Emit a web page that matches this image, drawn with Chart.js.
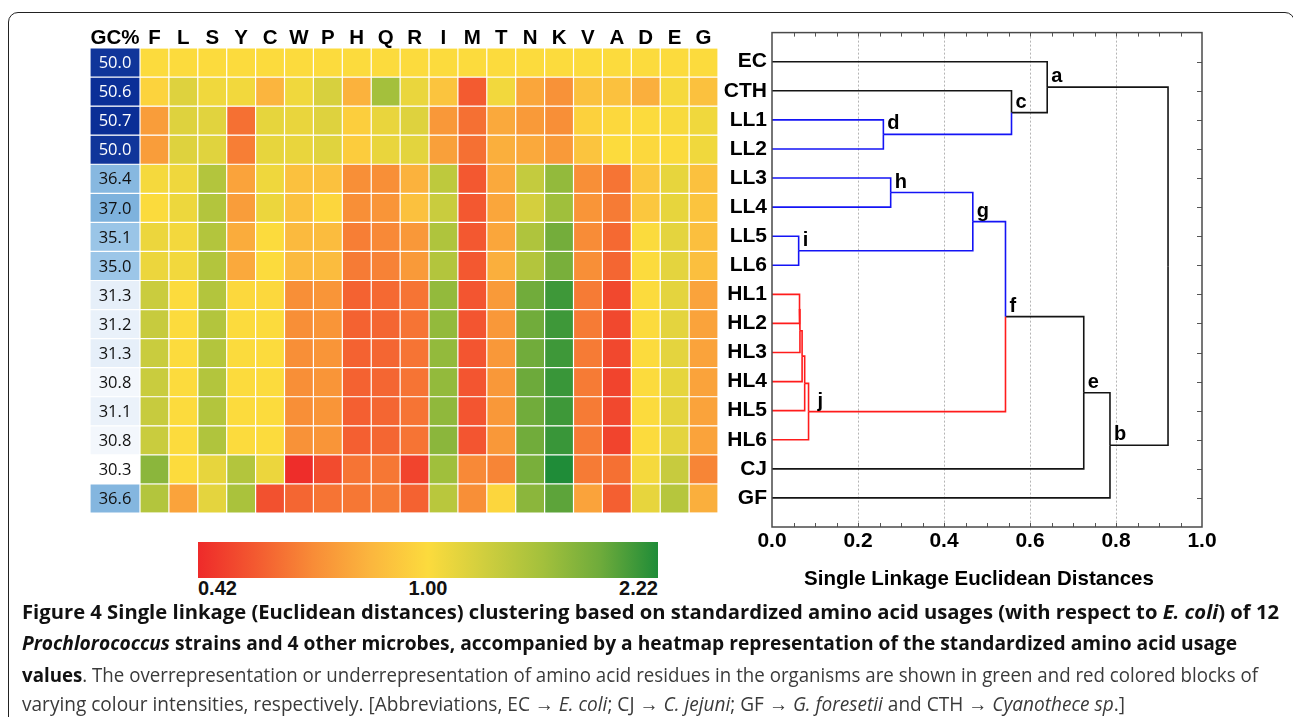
<!DOCTYPE html>
<html><head><meta charset="utf-8">
<script src="https://cdn.jsdelivr.net/npm/chart.js@4.4.1/dist/chart.umd.min.js"></script>
<style>
html,body{margin:0;padding:0;background:#fff;width:1293px;height:717px;overflow:hidden;position:relative;font-family:"Liberation Sans",Arial,sans-serif;}
#frame{position:absolute;left:8px;top:12px;width:1287px;height:780px;border:1.5px solid #222;border-radius:10px;box-sizing:border-box;}
canvas{position:absolute;}
#heat{left:80px;top:18px;}
#dendro{left:700px;top:15px;}
#cbar{position:absolute;left:198px;top:542px;width:460px;height:36px;}
.cbl{position:absolute;top:577px;font:bold 20px "Liberation Sans",Arial,sans-serif;line-height:22px;color:#111;white-space:nowrap;}
.cap{position:absolute;left:22px;white-space:nowrap;font-family:"Open Sans",sans-serif;font-size:20px;line-height:26px;transform-origin:0 50%;color:#3a3a3a;}
.cap b{color:#111;}
</style></head><body>
<div id="frame"></div>
<canvas id="heat" width="650" height="500"></canvas>
<canvas id="dendro" width="530" height="585"></canvas>
<div id="cbar"></div>
<div class="cbl" id="cbMin" style="left:198px;">0.42</div>
<div class="cbl" id="cbMid" style="left:428px;transform:translateX(-50%);">1.00</div>
<div class="cbl" id="cbMax" style="left:658px;transform:translateX(-100%);">2.22</div>
<div class="cap" id="cap1" data-w="1257" style="top:599px;"><b>Figure 4 Single linkage (Euclidean distances) clustering based on standardized amino acid usages (with respect to <i>E. coli</i>) of 12</b></div>
<div class="cap" id="cap2" data-w="1215" style="top:630px;"><b><i>Prochlorococcus</i> strains and 4 other microbes, accompanied by a heatmap representation of the standardized amino acid usage</b></div>
<div class="cap" id="cap3" data-w="1236" style="top:662px;"><b>values</b>. The overrepresentation or underrepresentation of amino acid residues in the organisms are shown in green and red colored blocks of</div>
<div class="cap" id="cap4" data-w="1103" style="top:691px;">varying colour intensities, respectively. [Abbreviations, EC &#8594; <i>E. coli</i>; CJ &#8594; <i>C. jejuni</i>; GF &#8594; <i>G. foresetii</i> and CTH &#8594; <i>Cyanothece sp</i>.]</div>
<script>
// ---------------- DATA ----------------
const organisms = ['EC','CTH','LL1','LL2','LL3','LL4','LL5','LL6','HL1','HL2','HL3','HL4','HL5','HL6','CJ','GF'];
const aminoAcids = ['F','L','S','Y','C','W','P','H','Q','R','I','M','T','N','K','V','A','D','E','G'];
const gcPercent = [50.0,50.6,50.7,50.0,36.4,37.0,35.1,35.0,31.3,31.2,31.3,30.8,31.1,30.8,30.3,36.6];

//                F    L    S    Y    C    W    P    H    Q    R    I    M    T    N    K    V    A    D    E    G
const usageEC  = [1.00,1.00,1.00,1.00,1.00,1.00,1.00,1.00,1.00,1.00,1.00,1.00,1.00,1.00,1.00,1.00,1.00,1.00,1.00,1.00];
const usageCTH = [0.97,1.20,1.08,1.07,0.85,1.08,1.25,0.84,1.60,1.12,0.91,0.57,1.07,0.80,0.73,0.90,0.90,0.83,1.04,0.90];
const usageLL1 = [0.77,1.20,1.18,0.63,1.15,1.13,1.20,0.95,1.13,1.20,0.75,0.63,0.81,0.76,0.72,0.96,0.99,1.00,1.03,1.08];
const usageLL2 = [0.77,1.20,1.19,0.67,1.14,1.13,1.19,0.94,1.13,1.17,0.78,0.63,0.83,0.81,0.76,0.91,1.00,0.99,1.01,1.08];
const usageLL3 = [1.05,1.09,1.50,0.79,1.09,0.90,0.90,0.72,0.72,0.84,1.42,0.56,0.81,1.38,1.70,0.72,0.64,0.92,1.14,0.90];
const usageLL4 = [1.01,1.10,1.50,0.77,1.11,0.90,0.98,0.72,0.74,0.90,1.35,0.56,0.80,1.27,1.63,0.74,0.66,0.92,1.14,0.91];
const usageLL5 = [1.11,1.06,1.50,0.82,1.00,0.87,0.88,0.67,0.70,0.75,1.53,0.56,0.80,1.53,1.88,0.71,0.61,1.01,1.16,0.89];
const usageLL6 = [1.11,1.07,1.50,0.81,1.00,0.87,0.88,0.66,0.68,0.76,1.50,0.56,0.83,1.50,1.85,0.72,0.60,1.00,1.16,0.89];
const usageHL1 = [1.34,1.00,1.50,0.99,0.99,0.72,0.74,0.59,0.61,0.64,1.70,0.55,0.76,1.90,2.10,0.66,0.51,1.00,1.16,0.79];
const usageHL2 = [1.36,1.00,1.50,1.00,1.00,0.72,0.74,0.59,0.60,0.64,1.70,0.55,0.75,1.90,2.10,0.66,0.51,1.00,1.16,0.79];
const usageHL3 = [1.35,1.00,1.50,1.01,1.00,0.72,0.74,0.59,0.60,0.64,1.70,0.55,0.75,1.90,2.10,0.66,0.51,1.00,1.16,0.79];
const usageHL4 = [1.35,1.00,1.50,1.00,1.00,0.72,0.74,0.59,0.60,0.64,1.70,0.55,0.75,1.92,2.12,0.66,0.50,1.00,1.15,0.79];
const usageHL5 = [1.36,1.00,1.50,1.00,1.00,0.72,0.74,0.58,0.60,0.64,1.72,0.55,0.75,1.90,2.10,0.66,0.51,1.00,1.16,0.79];
const usageHL6 = [1.35,1.00,1.52,1.00,1.00,0.73,0.74,0.58,0.60,0.64,1.75,0.55,0.75,1.90,2.12,0.66,0.50,1.00,1.16,0.79];
const usageCJ  = [1.75,1.00,1.14,1.50,1.11,0.43,0.52,0.64,0.65,0.50,1.63,0.70,0.69,1.85,2.22,0.66,0.63,1.05,1.36,0.69];
const usageGF  = [1.50,0.79,1.16,1.56,0.54,0.60,0.64,0.65,0.66,0.59,1.46,0.72,0.98,1.75,1.98,0.79,0.58,1.14,1.48,0.83];
const usageRows = [usageEC,usageCTH,usageLL1,usageLL2,usageLL3,usageLL4,usageLL5,usageLL6,
                   usageHL1,usageHL2,usageHL3,usageHL4,usageHL5,usageHL6,usageCJ,usageGF];

// Dendrogram merges: child index < 16 is a leaf, 16+k is merge k
const mergeLeft   = [6, 8, 17, 18, 19, 20, 2, 4, 23, 24, 1, 0, 25, 28, 27];
const mergeRight  = [7, 9, 10, 11, 12, 13, 3, 5, 16, 21, 22, 26, 14, 15, 29];
const mergeHeight = [0.062,0.064,0.065,0.070,0.076,0.085,0.259,0.276,0.467,0.543,0.557,0.640,0.725,0.786,0.921];
const mergeLabel  = ['i','','','','','j','d','h','g','f','c','a','e','b',''];
const distanceTicks = [0, 0.2, 0.4, 0.6, 0.8, 1.0];

// ---------------- STYLE ----------------
const BLUE='#1414f5', RED='#ff1c1c', BLACK='#141414';
const leafColor = organisms.map(o => o.startsWith('LL') ? BLUE : o.startsWith('HL') ? RED : BLACK);
const mergeColor = [BLUE,RED,RED,RED,RED,RED,BLUE,BLUE,BLUE,BLACK,BLACK,BLACK,BLACK,BLACK,BLACK];
const USAGE_STOPS = [[0.42,[238,42,42]],[0.56,[243,88,48]],[0.71,[248,140,55]],[0.855,[251,182,62]],[1.0,[252,219,61]],
                     [1.305,[207,206,62]],[1.61,[163,192,60]],[1.915,[110,171,59]],[2.22,[31,140,56]]];
const GC_STOPS = [[30.3,[255,255,255]],[31.3,[230,239,249]],[35.0,[156,198,232]],[37.0,[126,178,221]],[50.7,[10,46,150]]];
function interp(stops, v){
  if (v <= stops[0][0]) return stops[0][1];
  for (let i=1;i<stops.length;i++){
    if (v <= stops[i][0]){
      const [a,ca]=stops[i-1],[b,cb]=stops[i]; const t=(v-a)/(b-a);
      return ca.map((c,k)=>Math.round(c+(cb[k]-c)*t));
    }
  }
  return stops[stops.length-1][1];
}
const rgb = c => `rgb(${c[0]},${c[1]},${c[2]})`;
const usageColor = v => rgb(interp(USAGE_STOPS, v));
const gcColor = v => rgb(interp(GC_STOPS, v));

// colour bar gradient
(function(){
  const pos = v => v<=1 ? (v-0.42)/0.58*50 : 50+(v-1)/1.22*50;
  document.getElementById('cbar').style.background =
    'linear-gradient(to right,' + USAGE_STOPS.map(s=>rgb(s[1])+' '+pos(s[0]).toFixed(2)+'%').join(',') + ')';
})();

Chart.defaults.font.family = '"Liberation Sans", Arial, sans-serif';

// ---------------- HEATMAP ----------------
const GC_UNITS = 50/28.9;
const heatDatasets = [{
  label:'GC%', data: organisms.map(()=>GC_UNITS), backgroundColor: gcPercent.map(gcColor)
}];
aminoAcids.forEach((aa,j)=>{
  heatDatasets.push({label:aa, data: organisms.map(()=>1), backgroundColor: usageRows.map(r=>usageColor(r[j]))});
});
const heatLabels = {
  id:'heatLabels',
  afterDraw(chart){
    const ctx=chart.ctx, xs=chart.scales.x, top=chart.chartArea.top;
    ctx.save();
    ctx.fillStyle='#000'; ctx.font='bold 20.5px "Liberation Sans", Arial, sans-serif';
    ctx.textAlign='center'; ctx.textBaseline='alphabetic';
    ctx.fillText('GC%', xs.getPixelForValue(GC_UNITS/2), top-4);
    aminoAcids.forEach((aa,j)=> ctx.fillText(aa, xs.getPixelForValue(GC_UNITS+j+0.5), top-4));
    ctx.font='16.5px "Open Sans", sans-serif'; ctx.textBaseline='middle';
    chart.getDatasetMeta(0).data.forEach((el,i)=>{
      const p=el.getCenterPoint();
      ctx.fillStyle = gcPercent[i] > 45 ? '#fff' : '#111';
      ctx.fillText(gcPercent[i].toFixed(1), p.x, p.y+1);
    });
    ctx.restore();
  }
};
new Chart(document.getElementById('heat'), {
  type:'bar',
  data:{labels:organisms, datasets:heatDatasets},
  options:{
    indexAxis:'y', animation:false, responsive:false, devicePixelRatio:1,
    layout:{padding:{left:10,top:30,right:12,bottom:5}},
    datasets:{bar:{barPercentage:1, categoryPercentage:1, borderWidth:0.6, borderColor:'rgba(255,255,255,0.75)', borderSkipped:false, inflateAmount:0}},
    plugins:{legend:{display:false}, tooltip:{enabled:false}},
    scales:{
      x:{stacked:true, min:0, max:GC_UNITS+aminoAcids.length, display:false},
      y:{stacked:true, display:false}
    }
  },
  plugins:[heatLabels]
});

// ---------------- DENDROGRAM ----------------
const nLeaf = organisms.length;
const nodeX = [], nodeY = [];
organisms.forEach((_,i)=>{ nodeX[i]=0; nodeY[i]=i+1; });
const colorOf = i => i < nLeaf ? leafColor[i] : mergeColor[i-nLeaf];
const dendroDatasets = [];
mergeHeight.forEach((h,k)=>{
  const a=mergeLeft[k], b=mergeRight[k];
  const mid=(nodeY[a]+nodeY[b])/2;
  [a,b].forEach(c=>{
    dendroDatasets.push({
      data:[{x:nodeX[c],y:nodeY[c]},{x:h,y:nodeY[c]},{x:h,y:mid}],
      borderColor:colorOf(c), backgroundColor:colorOf(c), showLine:true, borderWidth:1.6,
      pointRadius:0, tension:0, fill:false
    });
  });
  nodeX[nLeaf+k]=h; nodeY[nLeaf+k]=mid;
});
const dendroDecor = {
  id:'dendroDecor',
  afterDraw(chart){
    const ctx=chart.ctx, xs=chart.scales.x, ys=chart.scales.y, ca=chart.chartArea;
    ctx.save();
    ctx.strokeStyle='#555'; ctx.lineWidth=1;
    ctx.beginPath();
    for (let k=1;k<20;k++){
      const px=Math.round(xs.getPixelForValue(k*0.05))+0.5;
      ctx.moveTo(px,ca.top); ctx.lineTo(px,ca.top+4);
      ctx.moveTo(px,ca.bottom); ctx.lineTo(px,ca.bottom-4);
    }
    organisms.forEach((_,i)=>{
      const py=Math.round(ys.getPixelForValue(i+1))+0.5;
      ctx.moveTo(ca.right,py); ctx.lineTo(ca.right-5,py);
    });
    ctx.stroke();
    ctx.strokeStyle='#4a4a4a'; ctx.lineWidth=1.5;
    ctx.strokeRect(ca.left,ca.top,ca.right-ca.left,ca.bottom-ca.top);
    ctx.fillStyle='#000'; ctx.font='bold 20px "Liberation Sans", Arial, sans-serif';
    ctx.textAlign='left'; ctx.textBaseline='alphabetic';
    mergeLabel.forEach((lab,k)=>{
      if(!lab) return;
      const px=xs.getPixelForValue(mergeHeight[k]), py=ys.getPixelForValue(nodeY[nLeaf+k]);
      ctx.fillText(lab, px+(lab==='j'?9:4), py-5);
    });
    // axis title (slightly left of centre, as in the original)
    ctx.font='bold 20.5px "Liberation Sans", Arial, sans-serif';
    ctx.textAlign='center'; ctx.textBaseline='middle';
    ctx.fillText('Single Linkage Euclidean Distances', (ca.left+ca.right)/2-8, ca.bottom+52);
    ctx.restore();
  }
};
new Chart(document.getElementById('dendro'), {
  type:'scatter',
  data:{datasets:dendroDatasets},
  options:{
    animation:false, responsive:false, devicePixelRatio:1,
    layout:{padding:{top:16,right:28,left:0,bottom:0}},
    plugins:{legend:{display:false}, tooltip:{enabled:false}},
    scales:{
      x:{type:'linear', min:0, max:1,
         afterFit(s){ s.height=73; },
         afterBuildTicks(s){ s.ticks = distanceTicks.map(v=>({value:v})); },
         ticks:{callback:v=>Number(v).toFixed(1), font:{weight:'bold', size:21}, color:'#000', padding:2, autoSkip:false, maxRotation:0},
         grid:{color:c=> (c.tick && c.tick.value>0.01 && c.tick.value<0.99) ? '#b4b4b4' : 'rgba(0,0,0,0)', drawTicks:false, lineWidth:1},
         border:{display:false, dash:[2,2]},
         title:{display:false}
      },
      y:{type:'linear', min:0, max:17, reverse:true,
         afterFit(s){ s.width=72; },
         afterBuildTicks(s){ s.ticks = organisms.map((_,i)=>({value:i+1})); },
         ticks:{callback:v=>organisms[Math.round(v)-1] || '', font:{weight:'bold', size:21}, color:'#000', padding:5, autoSkip:false},
         grid:{display:false, drawTicks:false}, border:{display:false}
      }
    }
  },
  plugins:[dendroDecor]
});

// ---------------- CAPTION FIT ----------------
function fitCaptions(){
  document.querySelectorAll('.cap').forEach(el=>{
    el.style.transform='none';
    const w=el.getBoundingClientRect().width;
    el.style.transform='scaleX('+(Number(el.dataset.w)/w)+')';
  });
}
fitCaptions();
if (document.fonts && document.fonts.ready) document.fonts.ready.then(fitCaptions);
</script>
</body></html>
